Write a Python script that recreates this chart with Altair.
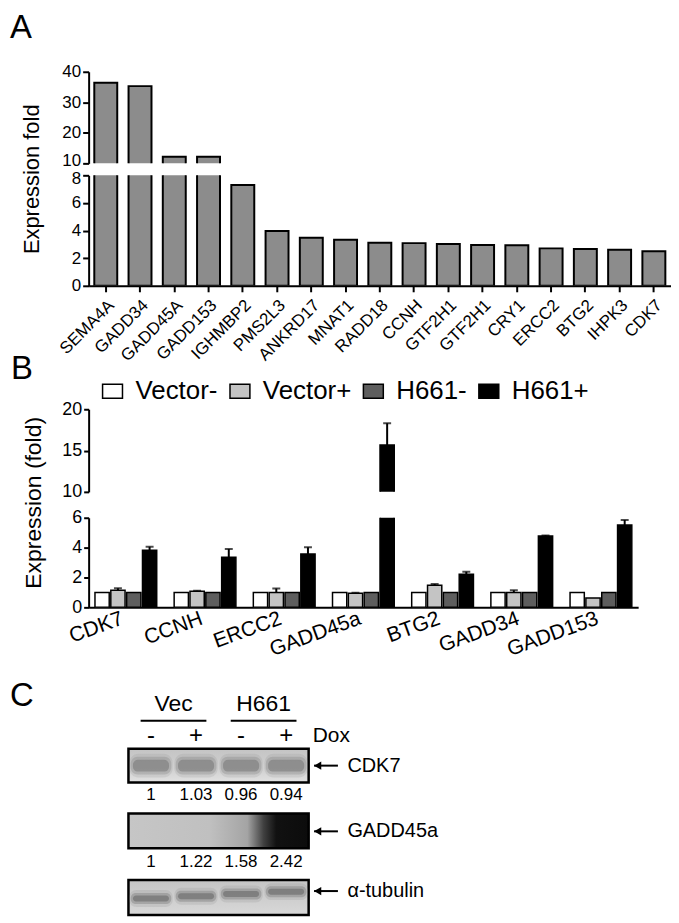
import altair as alt
import pandas as pd

FONT = "Liberation Sans"

# ---------------- Panel A data ----------------
genes_a = ["SEMA4A", "GADD34", "GADD45A", "GADD153", "IGHMBP2", "PMS2L3", "ANKRD17",
           "MNAT1", "RADD18", "CCNH", "GTF2H1", "GTF2H1", "CRY1", "ERCC2", "BTG2",
           "IHPK3", "CDK7"]
fold_a = [36.4, 35.3, 12.2, 12.2, 7.3, 3.96, 3.48, 3.33, 3.12, 3.09, 3.02, 2.95,
          2.93, 2.71, 2.66, 2.61, 2.50]
ticks_a_top = [10, 20, 30, 40]
ticks_a_bot = [0, 2, 4, 6, 8]

# ---------------- Panel B data ----------------
genes_b = ["CDK7", "CCNH", "ERCC2", "GADD45a", "BTG2", "GADD34", "GADD153"]
conditions = ["Vector-", "Vector+", "H661-", "H661+"]
vec_minus = [1, 1, 1, 1, 1, 1, 1]
vec_minus_err = [0, 0, 0, 0, 0, 0, 0]
vec_plus = [1.15, 1.08, 1.00, 0.95, 1.48, 1.00, 0.62]
vec_plus_err = [0.13, 0.03, 0.26, 0.03, 0.09, 0.15, 0.0]
h661_minus = [1, 1, 1, 1, 1, 1, 1]
h661_minus_err = [0, 0, 0, 0, 0, 0, 0]
h661_plus = [3.82, 3.36, 3.58, 15.67, 2.21, 4.77, 5.52]
h661_plus_err = [0.24, 0.55, 0.44, 2.63, 0.17, 0.05, 0.33]
ticks_b_top = [10, 15, 20]
ticks_b_bot = [0, 2, 4, 6]

# ---------------- Panel C data ----------------
lanes = [1, 2, 3, 4]
dox = ["-", "+", "-", "+"]
cdk7_ratio = ["1", "1.03", "0.96", "0.94"]
gadd45a_ratio = ["1", "1.22", "1.58", "2.42"]
cell_groups = ["Vec", "H661"]
cell_group_lanes = [[1, 2], [3, 4]]
blots = ["CDK7", "GADD45a", "\u03b1-tubulin"]

# ---------------- helpers ----------------
axis_common = dict(domainColor="black", domainWidth=2, tickColor="black", tickWidth=2,
                   labelColor="black", labelFont=FONT, grid=False, title=None, labelOverlap=False)


def text_layer(txt, x, y, size, angle=0, align="left", baseline="top"):
    return alt.Chart(pd.DataFrame({"t": [txt]})).mark_text(
        align=align, baseline=baseline, fontSize=size, font=FONT, color="black", angle=angle
    ).encode(text="t:N", x=alt.value(x), y=alt.value(y))


# ---------------- Panel A ----------------
WA = 585
dfA = pd.DataFrame({"idx": list(range(len(genes_a))), "fold": fold_a})
labels_js = "[" + ",".join("'%s'" % g for g in genes_a) + "][datum.value]"
xA_scale = alt.Scale(paddingInner=0.33, paddingOuter=0.165)


def a_chart(domain, ticks, xaxis, label_offset):
    return alt.Chart(dfA).mark_bar(color="#8c8c8c", stroke="black", strokeWidth=2, clip=True).encode(
        x=alt.X("idx:O", scale=xA_scale, axis=xaxis),
        y=alt.Y("fold:Q", scale=alt.Scale(domain=domain, nice=False, zero=False),
                axis=alt.Axis(values=ticks, tickSize=6, labelFontSize=17, labelPadding=2,
                              labelOffset=label_offset, **axis_common)),
        y2=alt.datum(0),
    )


a_top = alt.layer(
    a_chart([10, 40], ticks_a_top, None,
            {"condition": {"test": "datum.value === 10", "value": -3}, "value": 0}),
    text_layer("A", -79, -60, 33),
).properties(width=WA, height=92)

a_bot = alt.layer(
    a_chart([0, 8], ticks_a_bot,
            alt.Axis(labelExpr=labels_js, labelAngle=-45, labelAlign="right", labelBaseline="top",
                     labelFontSize=17, labelPadding=5, tickSize=6, **axis_common),
            {"condition": {"test": "datum.value === 8", "value": 3}, "value": 0}),
    text_layer("Expression fold", -57, 4, 22, angle=270, align="center", baseline="middle"),
).properties(width=WA, height=111)

# ---------------- Panel B ----------------
WB = 552
series = [(vec_minus, vec_minus_err), (vec_plus, vec_plus_err),
          (h661_minus, h661_minus_err), (h661_plus, h661_plus_err)]
rows = []
for gi, g in enumerate(genes_b):
    for ci, c in enumerate(conditions):
        v, e = series[ci][0][gi], series[ci][1][gi]
        rows.append({"gene": g, "cond": c, "val": v, "hi": v + e, "err": e})
dfB = pd.DataFrame(rows)

legendB = alt.Legend(title=None, orient="none", legendX=11, legendY=308, direction="horizontal",
                     symbolType="M-1,-0.7L1,-0.7L1,0.7L-1,0.7Z", symbolSize=400,
                     symbolStrokeColor="black", symbolStrokeWidth=1.5, symbolOpacity=1,
                     labelFontSize=26, labelFont=FONT, labelColor="black", labelOffset=10,
                     columnPadding=9)
colorB = alt.Color("cond:N", sort=conditions,
                   scale=alt.Scale(domain=conditions, range=["white", "#c4c4c4", "#5e5e5e", "black"]),
                   legend=legendB)
xB_scale = alt.Scale(paddingInner=0.22, paddingOuter=0.08)
xoB = alt.XOffset("cond:N", sort=conditions, scale=alt.Scale(paddingInner=0.1))


def b_chart(domain, ticks, xaxis):
    base = alt.Chart(dfB)
    x = alt.X("gene:N", sort=genes_b, scale=xB_scale, axis=xaxis)
    yscale = alt.Scale(domain=domain, nice=False, zero=False)
    yaxis = alt.Axis(values=ticks, tickSize=5, labelFontSize=18, labelPadding=2, **axis_common)
    bars = base.mark_bar(stroke="black", strokeWidth=1.5, clip=True).encode(
        x=x, xOffset=xoB,
        y=alt.Y("val:Q", scale=yscale, axis=yaxis),
        y2=alt.datum(0),
        color=colorB,
    )
    err = base.transform_filter("datum.err > 0").mark_rule(color="black", strokeWidth=2, clip=True).encode(
        x=x, xOffset=xoB, y=alt.Y("val:Q", scale=yscale, axis=yaxis), y2="hi:Q")
    cap = base.transform_filter("datum.err > 0").mark_tick(color="black", thickness=2, size=8, clip=True).encode(
        x=x, xOffset=xoB, y=alt.Y("hi:Q", scale=yscale, axis=yaxis))
    return [bars, err, cap]


b_top = alt.layer(
    *b_chart([10, 20], ticks_b_top, None),
    text_layer("B", -78, -56, 33),
).properties(width=WB, height=83)

b_bot = alt.layer(
    *b_chart([0, 6], ticks_b_bot,
             alt.Axis(labelAngle=-20, labelAlign="right", labelBaseline="top", labelFontSize=21,
                      labelPadding=0, labelOffset=-7, ticks=False, **axis_common)),
    text_layer("Expression (fold)", -55, -15, 23, angle=270, align="center", baseline="middle"),
).properties(width=WB, height=90)

# ---------------- Panel C (western blot) ----------------
HC = 226
cx_scale = alt.Scale(domain=[-0.384, 12.544])
cy_scale = alt.Scale(domain=[0, HC], reverse=True)


def CX(f):
    return alt.X(f, type="quantitative", scale=cx_scale, axis=None)


def CY(f):
    return alt.Y(f, type="quantitative", scale=cy_scale, axis=None)


lane_df = pd.DataFrame({"lane": lanes, "dox": dox, "cdk7": cdk7_ratio, "gadd": gadd45a_ratio})
grp_df = pd.DataFrame({"grp": cell_groups,
                       "mid": [sum(l) / len(l) for l in cell_group_lanes]})
box_pos = {"CDK7": (59, 93, 76), "GADD45a": (124, 159, 142), "\u03b1-tubulin": (191, 226, 202)}
blot_df = pd.DataFrame({"blot": blots,
                        "top": [box_pos[b][0] for b in blots],
                        "bot": [box_pos[b][1] for b in blots],
                        "mid": [box_pos[b][2] for b in blots]})
one = pd.DataFrame({"k": [0]})
L0, L1 = lanes[0] - 0.5, lanes[-1] + 0.5


def grad(stops, vertical=False):
    return alt.Gradient(gradient="linear",
                        stops=[alt.GradientStop(color=c, offset=o) for o, c in stops],
                        x1=0, x2=0 if vertical else 1, y1=0, y2=1 if vertical else 0)


def box(name, fill):
    t, b, _ = box_pos[name]
    return alt.Chart(one).transform_calculate(x0=str(L0), x1=str(L1)).mark_rect(
        fill=fill, stroke="black", strokeWidth=2.5).encode(
        x=CX("x0"), x2="x1:Q", y=alt.value(t), y2=alt.value(b))


def band(y0, y1, half, color, opacity, radius, slope=0.0):
    return alt.Chart(lane_df).transform_calculate(
        l0="datum.lane-%f" % half, l1="datum.lane+%f" % half,
        t0="%f - (datum.lane-1)*%f" % (y0, slope), t1="%f - (datum.lane-1)*%f" % (y1, slope)
    ).mark_rect(color=color, opacity=opacity, cornerRadius=radius).encode(
        x=CX("l0"), x2="l1:Q", y=CY("t0"), y2="t1:Q")


grp_text = alt.Chart(grp_df).mark_text(fontSize=23, font=FONT, color="black", baseline="middle").encode(
    x=CX("mid"), y=alt.value(14), text="grp:N")
grp_line = alt.Chart(grp_df).transform_calculate(g0="datum.mid-0.73", g1="datum.mid+0.73").mark_rule(
    color="black", strokeWidth=2).encode(x=CX("g0"), x2="g1:Q", y=alt.value(31))
dox_text = alt.Chart(lane_df).mark_text(fontSize=24, font=FONT, color="black", baseline="middle").encode(
    x=CX("lane"), y=alt.value(46), text="dox:N")
dox_label = alt.Chart(pd.DataFrame({"t": ["Dox"]})).transform_calculate(xx=str(L1 + 0.09)).mark_text(
    fontSize=21, font=FONT, color="black", align="left", baseline="middle").encode(
    x=CX("xx"), y=alt.value(46), text="t:N")

box_cdk7 = box("CDK7", grad([(0, "#c4c4c4"), (0.6, "#d0d0d0"), (1, "#e2e2e2")], vertical=True))
cdk7_b1 = band(64, 88, 0.48, "#8a8a8a", 0.18, 9)
cdk7_b2 = band(67, 85, 0.45, "#707070", 0.25, 7)
cdk7_b3 = band(70, 82, 0.40, "#555555", 0.35, 5)

box_gadd = box("GADD45a", grad([(0, "#c6c6c6"), (0.45, "#c0c0c0"), (0.66, "#a4a4a4"),
                                (0.75, "#404040"), (0.82, "#111111"), (1, "#0c0c0c")]))
box_tub = box("\u03b1-tubulin", grad([(0, "#c4c4c4"), (0.5, "#cecece"), (1, "#d8d8d8")], vertical=True))
tub_b1 = band(201, 218, 0.48, "#8a8a8a", 0.2, 7, slope=2.3)
tub_b2 = band(204, 215, 0.45, "#606060", 0.3, 5, slope=2.3)
tub_b3 = band(206.5, 212.5, 0.40, "#404040", 0.35, 3, slope=2.3)

ratio_cdk7 = alt.Chart(lane_df).mark_text(fontSize=17, font=FONT, color="black", baseline="middle").encode(
    x=CX("lane"), y=alt.value(106), text="cdk7:N")
ratio_gadd = alt.Chart(lane_df).mark_text(fontSize=17, font=FONT, color="black", baseline="middle").encode(
    x=CX("lane"), y=alt.value(173), text="gadd:N")

arrow_line = alt.Chart(blot_df).transform_calculate(a0=str(L1 + 0.12), a1=str(L1 + 0.65)).mark_rule(
    color="black", strokeWidth=2).encode(x=CX("a0"), x2="a1:Q", y=CY("mid"))
arrow_head = alt.Chart(blot_df).transform_calculate(a0=str(L1 + 0.2)).mark_point(
    shape="triangle-left", filled=True, size=70, color="black", opacity=1).encode(x=CX("a0"), y=CY("mid"))
blot_label = alt.Chart(blot_df).transform_calculate(a0=str(L1 + 0.86)).mark_text(
    fontSize=20, font=FONT, color="black", align="left", baseline="middle").encode(
    x=CX("a0"), y=CY("mid"), text="blot:N")

c_chart = alt.layer(
    grp_text, grp_line, dox_text, dox_label,
    box_cdk7, cdk7_b1, cdk7_b2, cdk7_b3,
    box_gadd,
    box_tub, tub_b1, tub_b2, tub_b3,
    ratio_cdk7, ratio_gadd,
    arrow_line, arrow_head, blot_label,
    text_layer("C", -79, -10, 33),
).properties(width=WA, height=HC)


# ---------------- spacers & layout ----------------
def spacer(h):
    return alt.Chart(one).mark_point(opacity=0).encode(
        x=alt.X("k:Q", axis=None), y=alt.Y("k:Q", axis=None)).properties(width=10, height=h)


chart = alt.vconcat(
    a_top, a_bot, spacer(100), b_top, spacer(2), b_bot, spacer(59), c_chart,
    spacing=12, bounds="flush"
).properties(padding={"top": 2, "left": 2, "right": 0, "bottom": 0}).configure(font=FONT).configure_view(stroke=None)

chart.save("out.html", embed_options={"renderer": "svg", "actions": False})
